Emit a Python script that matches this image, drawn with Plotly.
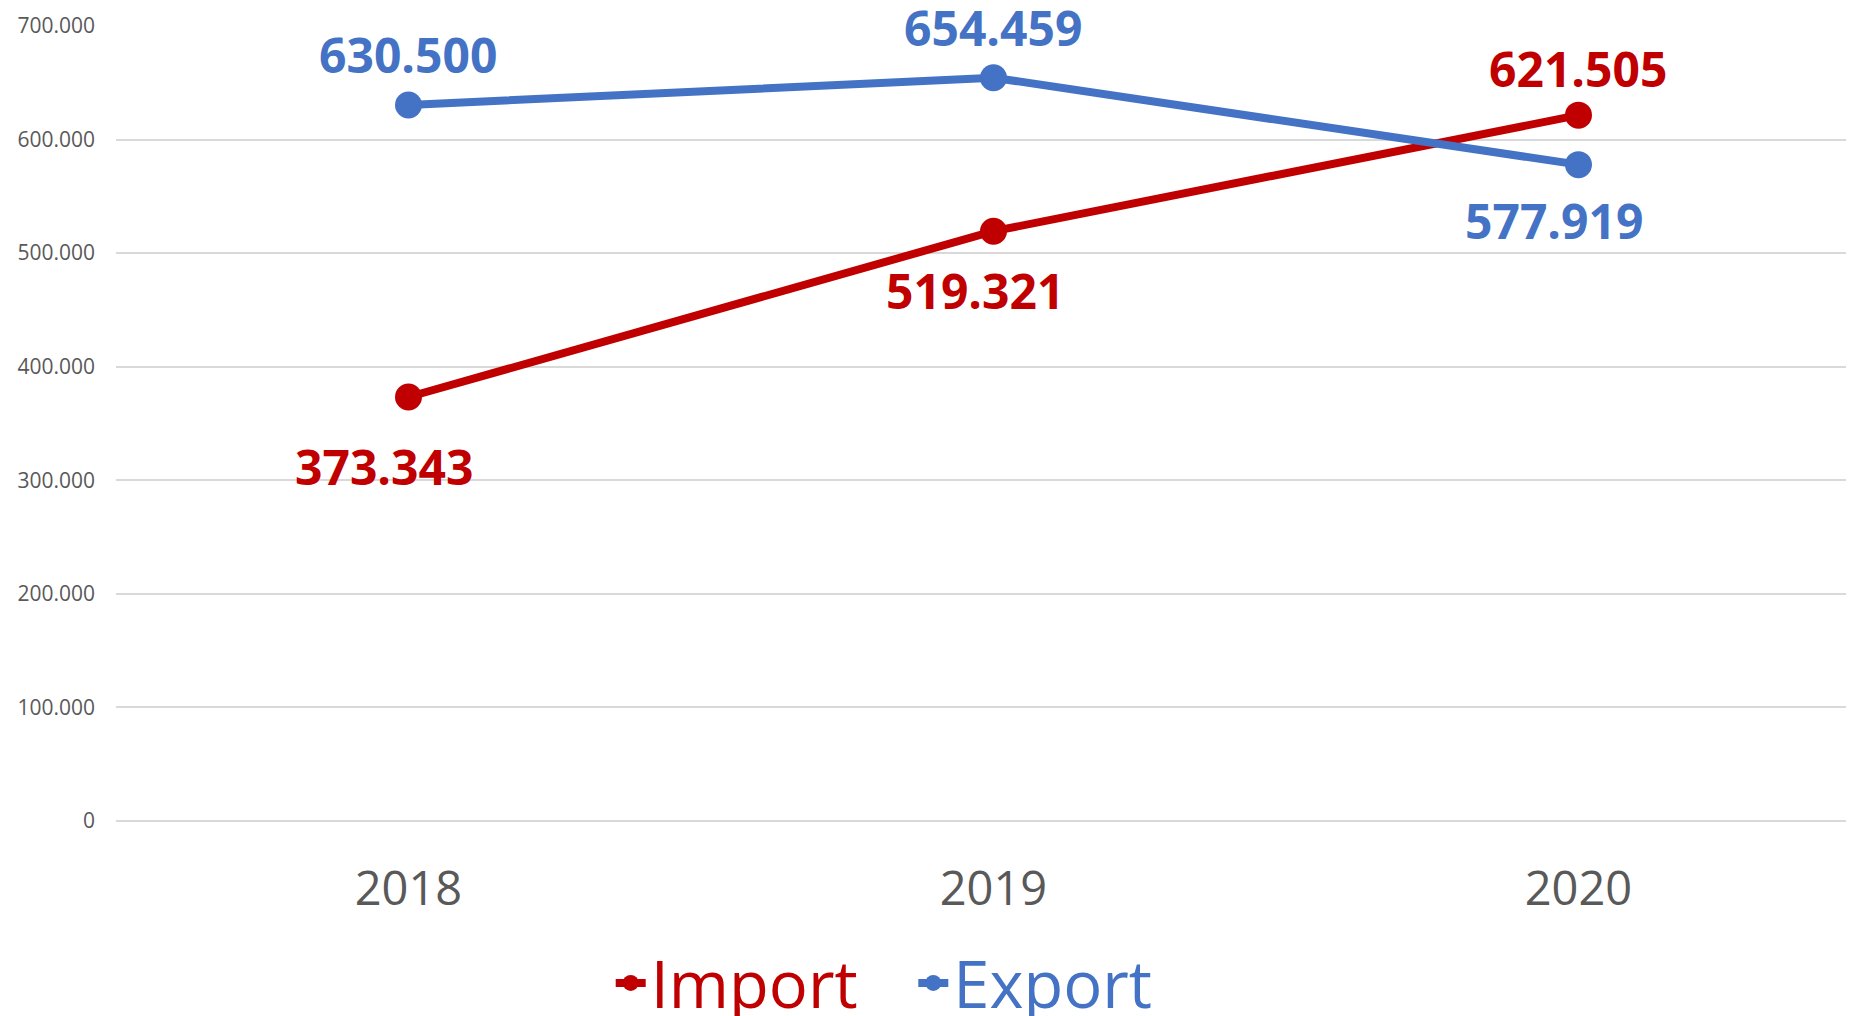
import plotly.graph_objects as go

years = ["2018", "2019", "2020"]
import_vals = [373343, 519321, 621505]
export_vals = [630500, 654459, 577919]
y_ticks = [0, 100000, 200000, 300000, 400000, 500000, 600000, 700000]

# label offsets (styling, pixels)
import_label_dy = [-70, -59, 47]
import_label_dx = [-24, -18, 0]
export_label_dy = [50, 50, -56]
export_label_dx = [0, 0, -24]

RED = "#C00000"
BLUE = "#4472C4"
FONT = "Open Sans, Noto Sans, sans-serif"

fig = go.Figure()
fig.add_trace(go.Scatter(
    x=years, y=import_vals, mode="lines+markers",
    name=f"<span style='color:{RED}'>Import</span>&nbsp;&nbsp;&nbsp;",
    line=dict(color=RED, width=8), marker=dict(color=RED, size=27),
    cliponaxis=False,
))
fig.add_trace(go.Scatter(
    x=years, y=export_vals, mode="lines+markers",
    name=f"<span style='color:{BLUE}'>Export</span>",
    line=dict(color=BLUE, width=8), marker=dict(color=BLUE, size=27),
    cliponaxis=False,
))

for vals, dys, dxs, col in [(import_vals, import_label_dy, import_label_dx, RED),
                            (export_vals, export_label_dy, export_label_dx, BLUE)]:
    for i, (yv, dy, dx) in enumerate(zip(vals, dys, dxs)):
        fig.add_annotation(
            x=i, y=yv, xref="x", yref="y",
            text=f"{yv:,d}".replace(",", "."),
            showarrow=False, yshift=dy, xshift=dx,
            font=dict(color=col, size=48, family=FONT, weight="bold"),
        )

fig.update_layout(
    width=1846, height=1008,
    margin=dict(l=108, r=0, t=18, b=195, autoexpand=False),
    plot_bgcolor="white", paper_bgcolor="white",
    separators=",.",
    font=dict(family=FONT, color="#595959"),
    showlegend=True,
    legend=dict(orientation="h", x=0.442, xanchor="center", y=-0.204, yanchor="middle",
                font=dict(size=65, family=FONT), itemwidth=30, tracegroupgap=0),
    xaxis=dict(type="category", range=[-0.5, 2.471], showgrid=False, showline=False,
               ticks="", tickfont=dict(size=47, color="#595959"), ticklabelstandoff=36),
    yaxis=dict(range=[0, 700000], tickvals=y_ticks, tickformat=",d",
               showgrid=True, gridcolor="#D9D9D9", gridwidth=2,
               zeroline=True, zerolinecolor="#D9D9D9", zerolinewidth=2,
               showline=False, ticks="", tickfont=dict(size=21, color="#595959"),
               ticklabelstandoff=20),
)

fig.write_html("out.html")
